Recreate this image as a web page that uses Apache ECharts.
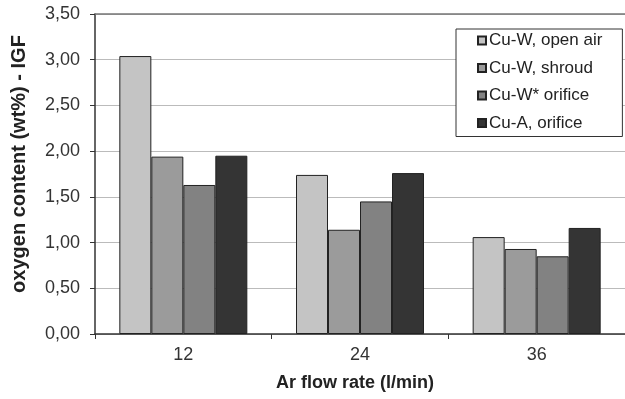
<!DOCTYPE html>
<html><head><meta charset="utf-8">
<script src="https://cdn.jsdelivr.net/npm/echarts@6/dist/echarts.min.js"></script>
<style>html,body{margin:0;padding:0;background:#fff}#c{width:625px;height:399px}</style>
</head><body><div id="c"></div>
<script>
const categories = ['12', '24', '36'];
const seriesNames = ['Cu-W, open air', 'Cu-W, shroud', 'Cu-W* orifice', 'Cu-A, orifice'];
const openAir = [3.04, 1.74, 1.06];
const shroud = [1.94, 1.14, 0.93];
const wOrifice = [1.63, 1.45, 0.85];
const aOrifice = [1.95, 1.76, 1.16];
const yTitle = 'oxygen content (wt%) - IGF';
const xTitle = 'Ar flow rate (l/min)';
const colors = ['#c4c4c4', '#9b9b9b', '#828282', '#343434'];
const FONT = '"Liberation Sans", Arial, sans-serif';

const chart = echarts.init(document.getElementById('c'));
const dataSets = [openAir, shroud, wOrifice, aOrifice];
chart.setOption({
  animation: false,
  textStyle: {fontFamily: FONT},
  grid: {left: 95, top: 14, width: 536, height: 320, containLabel: false},
  legend: {
    orient: 'vertical', left: 456, top: 29, width: 167,
    backgroundColor: '#fff', borderColor: '#333', borderWidth: 1,
    padding: [3, 20, 5, 21],
    itemWidth: 8, itemHeight: 8, itemGap: 10.5,
    textStyle: {fontSize: 17, color: '#222', fontFamily: FONT, padding: [0, 0, 0, -2]},
    data: seriesNames.map(n => ({name: n, icon: 'rect'}))
  },
  graphic: [{
    type: 'text', x: 19, y: 164, rotation: Math.PI / 2,
    style: {text: yTitle, font: 'bold 20px ' + FONT, fill: '#222', align: 'center', verticalAlign: 'middle'}
  }],
  xAxis: [{
    type: 'category', data: categories,
    axisLine: {lineStyle: {color: '#333', width: 1.5}},
    axisTick: {show: true, alignWithLabel: false, length: 5, lineStyle: {color: '#333'}},
    axisLabel: {fontSize: 18, color: '#333', margin: 12},
    name: xTitle, nameLocation: 'middle', nameGap: 40,
    nameTextStyle: {fontSize: 18, fontWeight: 'bold', color: '#222', padding: [0, 10, 0, 0]}
  }, {
    type: 'category', data: categories, position: 'top',
    axisLine: {lineStyle: {color: '#777', width: 1.5}},
    axisTick: {show: false}, axisLabel: {show: false}
  }],
  yAxis: {
    type: 'value', min: 0, max: 3.5, interval: 0.5,
    axisLine: {show: true, lineStyle: {color: '#333', width: 1.5}},
    axisTick: {show: true, length: 5, lineStyle: {color: '#333'}},
    axisLabel: {fontSize: 18, color: '#333', margin: 15,
      formatter: v => v.toFixed(2).replace('.', ',')},
    splitLine: {lineStyle: {color: '#bbb', width: 1}}
  },
  series: seriesNames.map((n, i) => ({
    name: n, type: 'bar', data: dataSets[i], barWidth: 32, barGap: '0%',
    itemStyle: {color: colors[i], borderColor: '#222', borderWidth: 1}
  }))
});
</script></body></html>
